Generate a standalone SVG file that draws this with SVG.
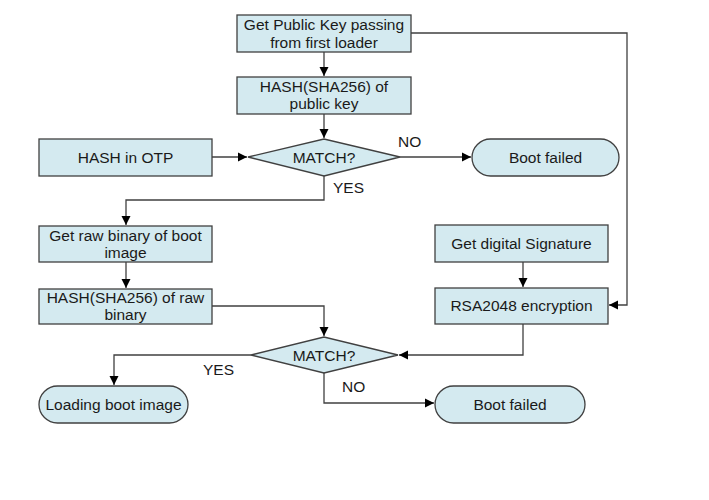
<svg xmlns="http://www.w3.org/2000/svg" width="709" height="500" viewBox="0 0 709 500">
<defs>
<style>
.n{fill:#D4EAF0;stroke:#404040;stroke-width:1.3}
.t{font-family:"Liberation Sans",Arial,sans-serif;font-size:15.5px;fill:#1a1a1a;text-anchor:middle}
.l{font-family:"Liberation Sans",Arial,sans-serif;font-size:15.5px;fill:#1a1a1a}
.c{fill:none;stroke:#404040;stroke-width:1.3}
</style>
<marker id="a" markerWidth="10" markerHeight="10" refX="9" refY="5" orient="auto" markerUnits="userSpaceOnUse">
<path d="M0,0.5 L9,5 L0,9.5 Z" fill="#000"/>
</marker>
</defs>
<rect width="709" height="500" fill="#fff"/>
<g id="connectors">
<path class="c" d="M324,52 V76" marker-end="url(#a)"/>
<path class="c" d="M324,114 V138" marker-end="url(#a)"/>
<path class="c" d="M212,157 H247" marker-end="url(#a)"/>
<path class="c" d="M400,157 H471" marker-end="url(#a)"/>
<path class="c" d="M324,176 V200 H126 V225" marker-end="url(#a)"/>
<path class="c" d="M126,262 V288" marker-end="url(#a)"/>
<path class="c" d="M212,306 H324 V336" marker-end="url(#a)"/>
<path class="c" d="M411,33 H627 V305 H609" marker-end="url(#a)"/>
<path class="c" d="M523,262 V287" marker-end="url(#a)"/>
<path class="c" d="M523,324 V355 H399" marker-end="url(#a)"/>
<path class="c" d="M251,355 H114 V385" marker-end="url(#a)"/>
<path class="c" d="M324,373 V403 H434" marker-end="url(#a)"/>
<text class="l" x="398" y="147">NO</text>
<text class="l" x="333" y="193">YES</text>
<text class="l" x="203" y="375">YES</text>
<text class="l" x="342" y="392">NO</text>
</g>
<g id="getkey">
<rect class="n" x="237" y="15" width="174" height="37"/>
<text class="t" x="324" y="30">Get Public Key passing</text>
<text class="t" x="324" y="47.5">from first loader</text>
</g>
<g id="hashkey">
<rect class="n" x="237" y="77" width="174" height="37"/>
<text class="t" x="324" y="92">HASH(SHA256) of</text>
<text class="t" x="324" y="109">public key</text>
</g>
<g id="otp">
<rect class="n" x="39" y="139" width="173" height="37"/>
<text class="t" x="125.5" y="163">HASH in OTP</text>
</g>
<g id="match1">
<polygon class="n" points="248,157 324,139 400,157 324,176"/>
<text class="t" x="324" y="163">MATCH?</text>
</g>
<g id="fail1">
<rect class="n" x="472" y="139" width="147" height="37" rx="18.5" ry="18.5"/>
<text class="t" x="545.5" y="163">Boot failed</text>
</g>
<g id="rawbin">
<rect class="n" x="39" y="226" width="173" height="36"/>
<text class="t" x="125.5" y="241">Get raw binary of boot</text>
<text class="t" x="125.5" y="258">image</text>
</g>
<g id="hashraw">
<rect class="n" x="39" y="289" width="173" height="35"/>
<text class="t" x="125.5" y="303">HASH(SHA256) of raw</text>
<text class="t" x="125.5" y="320">binary</text>
</g>
<g id="sig">
<rect class="n" x="435" y="225" width="173" height="37"/>
<text class="t" x="521.5" y="249">Get digital Signature</text>
</g>
<g id="rsa">
<rect class="n" x="435" y="288" width="173" height="36"/>
<text class="t" x="521.5" y="311">RSA2048 encryption</text>
</g>
<g id="match2">
<polygon class="n" points="251,355 324,337 398,355 324,373"/>
<text class="t" x="324" y="361">MATCH?</text>
</g>
<g id="loading">
<rect class="n" x="39" y="386" width="149" height="37" rx="18.5" ry="18.5"/>
<text class="t" x="113.5" y="410">Loading boot image</text>
</g>
<g id="fail2">
<rect class="n" x="435" y="386" width="150" height="37" rx="18.5" ry="18.5"/>
<text class="t" x="510" y="410">Boot failed</text>
</g>
</svg>
